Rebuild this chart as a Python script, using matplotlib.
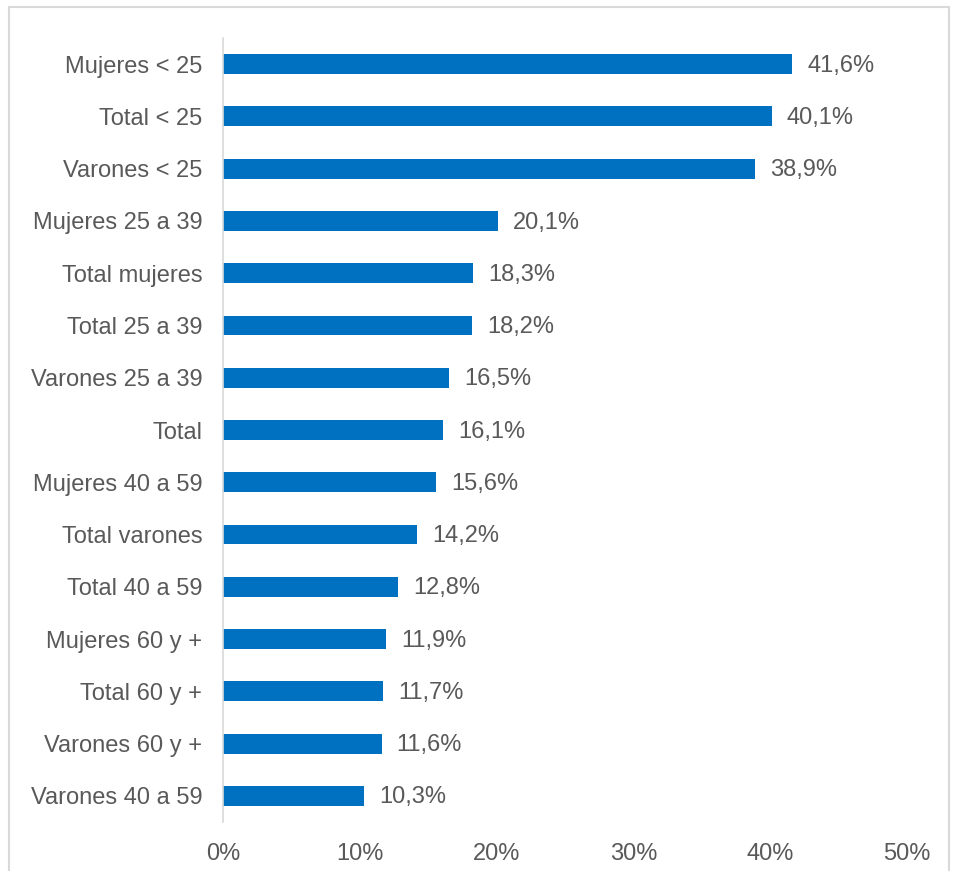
import matplotlib.pyplot as plt
from matplotlib.patches import Rectangle

categories = ["Mujeres < 25", "Total < 25", "Varones < 25", "Mujeres 25 a 39",
              "Total mujeres", "Total 25 a 39", "Varones 25 a 39", "Total",
              "Mujeres 40 a 59", "Total varones", "Total 40 a 59",
              "Mujeres 60 y +", "Total 60 y +", "Varones 60 y +", "Varones 40 a 59"]
values = [41.6, 40.1, 38.9, 20.1, 18.3, 18.2, 16.5, 16.1, 15.6, 14.2, 12.8,
          11.9, 11.7, 11.6, 10.3]
xticks = [0, 10, 20, 30, 40, 50]

TEXT = "#595959"
BLUE = "#0070C0"
GRID = "#D9D9D9"

plt.rcParams["font.family"] = ["Liberation Sans", "DejaVu Sans"]

fig = plt.figure(figsize=(9.58, 8.71), dpi=100)
ax = fig.add_axes([223 / 958, 1 - 822 / 871, (907 - 223) / 958, (822 - 38) / 871])

y = range(len(categories))
ax.barh(y, values, height=0.38, color=BLUE)
for i, v in enumerate(values):
    ax.text(v + 1.1, i + 0.03, f"{v:.1f}%".replace(".", ","), va="center", ha="left",
            fontsize=17, color=TEXT)

ax.set_ylim(len(categories) - 0.5, -0.5)
ax.set_xlim(0, 50)
ax.set_yticks(list(y))
ax.set_yticklabels(categories)
ax.set_xticks(xticks)
ax.set_xticklabels([f"{t}%" for t in xticks])
ax.tick_params(axis="both", length=0, labelsize=17, labelcolor=TEXT)
ax.tick_params(axis="x", pad=15)
ax.tick_params(axis="y", pad=15)
for side in ["top", "right", "bottom"]:
    ax.spines[side].set_visible(False)
ax.spines["left"].set_color(GRID)
ax.spines["left"].set_linewidth(1.2)

fig.patches.append(Rectangle((9 / 958, -0.05), (949 - 9) / 958, 1.05 - 7 / 871,
                             transform=fig.transFigure, fill=False,
                             edgecolor=GRID, linewidth=1.5))

fig.savefig("out.png", dpi=100)
